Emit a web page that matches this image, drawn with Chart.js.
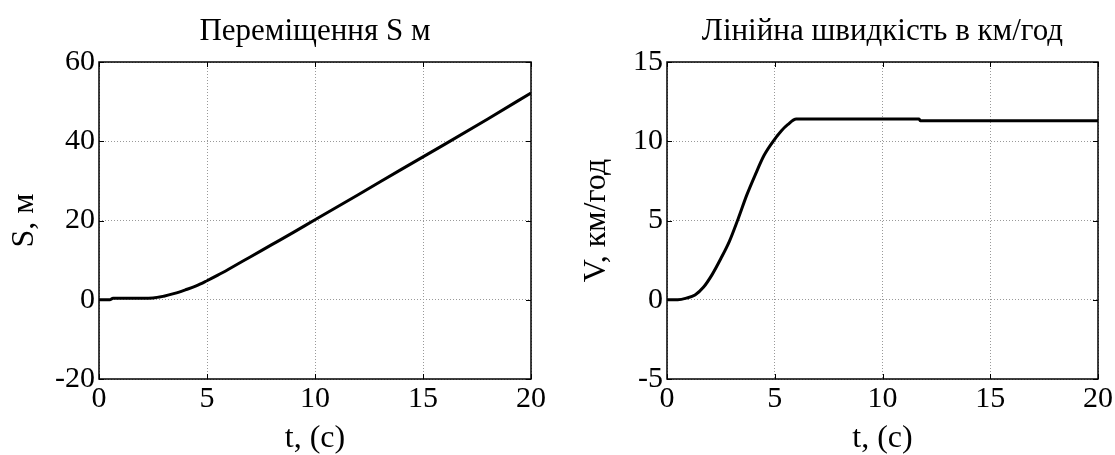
<!DOCTYPE html>
<html>
<head>
<meta charset="utf-8">
<script src="https://cdn.jsdelivr.net/npm/chart.js@4/dist/chart.umd.min.js"></script>
<style>
    html, body { margin: 0; padding: 0; background: #fff; }
    #wrap { position: relative; width: 1115px; height: 455px; overflow: hidden; }
    canvas { position: absolute; top: 0; }
    #sChart { left: 0; }
    #vChart { left: 547px; }
</style>
</head>
<body>
<div id="wrap">
    <canvas id="sChart" width="557" height="455"></canvas>
    <canvas id="vChart" width="568" height="455"></canvas>
</div>
<script>
// =====================
// Data
// =====================
const sTime   = [0, 0.5, 0.65, 1, 2, 2.5, 3, 3.5, 4, 4.5, 5, 5.5, 6, 7, 8, 9, 10, 12, 14, 16, 18, 20];
const sValues = [0, 0, 0.4, 0.4, 0.4, 0.45, 0.9, 1.6, 2.5, 3.5, 4.8, 6.2, 7.7, 10.8, 13.9, 17.0, 20.2, 26.5, 32.9, 39.2, 45.6, 52.2];

const vTime   = [0, 0.5, 0.9, 1.3, 1.7, 2.1, 2.5, 2.9, 3.3, 3.7, 4.1, 4.5, 4.9, 5.3, 5.6, 6.0, 11.7, 11.75, 20];
const vValues = [0, 0, 0.1, 0.3, 0.8, 1.6, 2.6, 3.7, 5.1, 6.6, 7.9, 9.1, 9.95, 10.65, 11.05, 11.4, 11.4, 11.3, 11.3];

const xTicks = [0, 5, 10, 15, 20];
const sTicks = [-20, 0, 20, 40, 60];
const vTicks = [-5, 0, 5, 10, 15];

const FONT = "'Liberation Serif', 'Times New Roman', serif";
Chart.defaults.font.family = FONT;
Chart.defaults.color = '#000';

// =====================
// Box, inner ticks and title (MATLAB look)
// =====================
const boxPlugin = {
    id: 'box',
    afterDraw(chart, args, opts) {
        const { ctx, chartArea: a, scales } = chart;
        ctx.save();
        ctx.strokeStyle = '#000';
        ctx.lineWidth = 1;
        ctx.beginPath();
        scales.x.ticks.forEach(t => {
            const px = Math.round(scales.x.getPixelForValue(t.value)) + 0.5;
            ctx.moveTo(px, a.bottom); ctx.lineTo(px, a.bottom - 5);
            ctx.moveTo(px, a.top); ctx.lineTo(px, a.top + 5);
        });
        scales.y.ticks.forEach(t => {
            const py = Math.round(scales.y.getPixelForValue(t.value)) + 0.5;
            ctx.moveTo(a.left, py); ctx.lineTo(a.left + 5, py);
            ctx.moveTo(a.right, py); ctx.lineTo(a.right - 5, py);
        });
        ctx.stroke();
        ctx.lineWidth = 1.5;
        ctx.strokeRect(a.left, a.top, a.right - a.left, a.bottom - a.top);

        ctx.fillStyle = '#000';
        ctx.font = opts.size + 'px ' + FONT;
        ctx.textAlign = 'center';
        ctx.textBaseline = 'middle';
        ctx.fillText(opts.text, (a.left + a.right) / 2, opts.y);
        ctx.restore();
    }
};

// =====================
// Chart builder
// =====================
function makeChart(id, xs, ys, yTicks, yTitle, title, yWidth, padRight, yTitlePad) {
    const ctx = document.getElementById(id).getContext('2d');
    return new Chart(ctx, {
        type: 'line',
        data: {
            datasets: [{
                data: xs.map((x, i) => ({ x: x, y: ys[i] })),
                borderColor: '#000',
                borderWidth: 3,
                pointRadius: 0,
                cubicInterpolationMode: 'monotone',
                fill: false
            }]
        },
        options: {
            responsive: false,
            animation: false,
            devicePixelRatio: 1,
            layout: { padding: { top: 62, right: padRight, left: 0, bottom: 0 } },
            plugins: {
                legend: { display: false },
                tooltip: { enabled: false },
                box: { text: title, size: 31, y: 32 }
            },
            scales: {
                x: {
                    type: 'linear',
                    min: xTicks[0],
                    max: xTicks[xTicks.length - 1],
                    afterBuildTicks: s => { s.ticks = xTicks.map(v => ({ value: v })); },
                    afterFit: s => { s.height = 76; },
                    grid: { color: '#999999', drawTicks: false },
                    border: { display: false, dash: [1, 2] },
                    ticks: { font: { size: 30 }, padding: 2, maxRotation: 0 },
                    title: { display: true, text: 't, (с)', font: { size: 32, lineHeight: 1 }, padding: { top: 0, bottom: 0 } }
                },
                y: {
                    type: 'linear',
                    min: yTicks[0],
                    max: yTicks[yTicks.length - 1],
                    afterBuildTicks: s => { s.ticks = yTicks.map(v => ({ value: v })); },
                    afterFit: s => { s.width = yWidth; },
                    grid: { color: '#999999', drawTicks: false },
                    border: { display: false, dash: [1, 2] },
                    ticks: { font: { size: 30 }, padding: 4 },
                    title: { display: true, text: yTitle, font: { size: 32, lineHeight: 1 }, padding: { top: yTitlePad, bottom: 0 } }
                }
            }
        },
        plugins: [boxPlugin]
    });
}

function initCharts() {
    makeChart('sChart', sTime, sValues, sTicks, 'S, м', 'Переміщення S м', 99, 26, 9);
    makeChart('vChart', vTime, vValues, vTicks, 'V, км/год', 'Лінійна швидкість в км/год', 120, 15, 34);
}

initCharts();
</script>
</body>
</html>
